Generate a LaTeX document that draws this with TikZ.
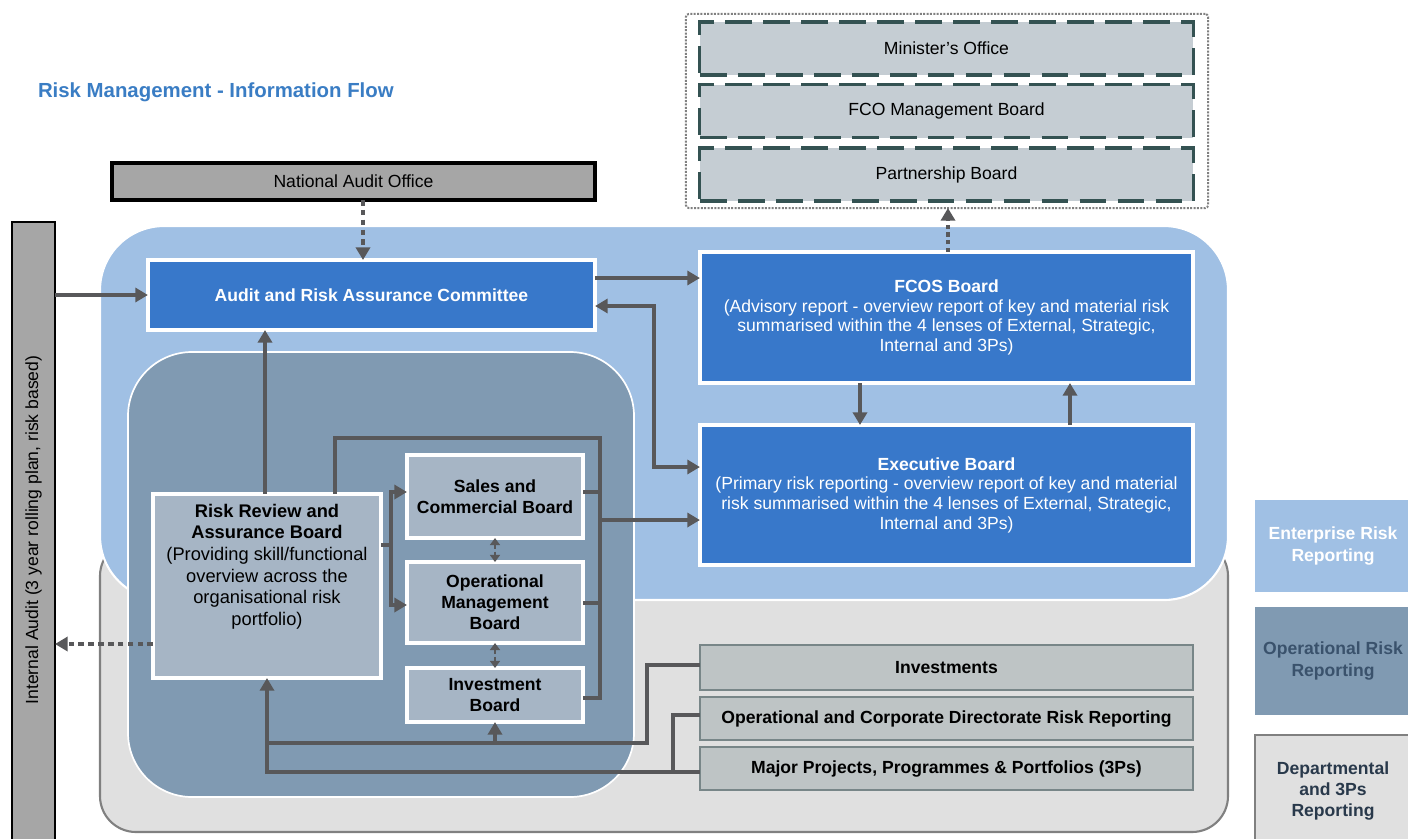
\documentclass[tikz,border=0pt]{standalone}
\usepackage{fontspec}
\setmainfont{Liberation Sans}
\usetikzlibrary{arrows.meta}

\definecolor{entblue}{RGB}{160,192,228}
\definecolor{opdark}{RGB}{128,154,178}
\definecolor{opbox}{RGB}{166,181,197}
\definecolor{deptgrey}{RGB}{224,224,224}
\definecolor{deptline}{RGB}{128,128,128}
\definecolor{deptbox}{RGB}{190,196,197}
\definecolor{deptboxline}{RGB}{120,134,136}
\definecolor{boardblue}{RGB}{56,120,202}
\definecolor{topfill}{RGB}{197,205,211}
\definecolor{topline}{RGB}{52,82,82}
\definecolor{naogrey}{RGB}{166,166,166}
\definecolor{titleblue}{RGB}{58,125,196}
\definecolor{optext}{RGB}{58,82,108}
\definecolor{linkgrey}{RGB}{88,88,90}

\begin{document}
\begin{tikzpicture}[x=0.025cm, y=-0.025cm,
  every node/.style={font=\fontsize{12.5}{14}\selectfont, align=center, inner sep=0pt, outer sep=0pt},
  bluebox/.style={fill=boardblue, draw=white, line width=3pt, text=white},
  opbox/.style={fill=opbox, draw=white, line width=3pt, font=\fontsize{12.5}{15}\selectfont\bfseries},
  deptbox/.style={fill=deptbox, draw=deptboxline, line width=1.5pt, minimum width=12.325cm, font=\fontsize{12.5}{14}\selectfont\bfseries},
  topbox/.style={fill=topfill, draw=topline, line width=2.2pt, dash pattern=on 19pt off 8pt, minimum width=12.325cm, minimum height=1.325cm},
  link/.style={draw=linkgrey, line width=2.3pt, -{Triangle[length=9pt,width=10pt]}},
  line/.style={draw=linkgrey, line width=2.3pt},
  dlink/.style={draw=linkgrey, line width=1.5pt, dash pattern=on 3pt off 2pt, {Triangle[length=5pt,width=7pt]}-{Triangle[length=5pt,width=7pt]}}
]
\useasboundingbox (0,0) rectangle (1408,838);
\fill[white] (0,0) rectangle (1408,838);

% title
\node[anchor=west, text=titleblue, font=\fontsize{14.5}{16}\selectfont\bfseries] (title) at (38,92) {Risk Management - Information Flow};

% reporting areas
\draw[fill=deptgrey, draw=deptline, line width=1.5pt, rounded corners=0.9cm] (100,540) rectangle (1228,832);
\draw[fill=entblue, draw=white, line width=1.5pt, rounded corners=1.6cm] (100,226) rectangle (1228,600);
\draw[fill=opdark, draw=white, line width=1.2pt, rounded corners=1.6cm] (128,352) rectangle (634,797);

% outside bodies
\node[draw=black, fill=naogrey, line width=2.4pt, minimum width=12.075cm, minimum height=0.925cm] (nao) at (353.5,181.5) {National Audit Office};
\node[draw=black, fill=naogrey, line width=2pt, minimum width=1.075cm, minimum height=15.6cm] (ia) at (33.5,534) {};
\node[rotate=90] (iatext) at (33.5,530) {Internal Audit (3 year rolling plan, risk based)};

\node[draw=gray, densely dotted, line width=1.4pt, rounded corners=2pt, minimum width=13.05cm, minimum height=4.85cm] (upper) at (947,111) {};
\node[topbox] (mo) at (946.5,48.5) {Minister's Office};
\node[topbox] (fcomb) at (946.5,111) {FCO Management Board};
\node[topbox] (pb) at (946.5,174.5) {Partnership Board};

% enterprise risk reporting
\node[bluebox, font=\fontsize{12.5}{14}\selectfont\bfseries, minimum width=11.175cm, minimum height=1.75cm] (arac) at (371.5,295) {Audit and Risk Assurance Committee};
\node[bluebox, minimum width=12.325cm, minimum height=3.275cm] (fcos) at (946.5,317.5) {\textbf{FCOS Board}\\(Advisory report - overview report of key and material risk\\summarised within the 4 lenses of External, Strategic,\\Internal and 3Ps)};
\node[bluebox, minimum width=12.325cm, minimum height=3.5cm] (exec) at (946.5,495) {\textbf{Executive Board}\\(Primary risk reporting - overview report of key and material\\risk summarised within the 4 lenses of External, Strategic,\\Internal and 3Ps)};

% operational risk reporting
\node[opbox, minimum width=5.7cm, minimum height=4.6cm, font=\fontsize{13}{15.4}\selectfont] (rrab) at (267,586) {\parbox[t][4.1cm][t]{5.6cm}{\centering\textbf{Risk Review and}\\\textbf{Assurance Board}\\(Providing skill/functional\\overview across the\\organisational risk\\portfolio)}};
\node[opbox, minimum width=4.4cm, minimum height=2.075cm] (sales) at (495,496.5) {Sales and\\Commercial Board};
\node[opbox, minimum width=4.4cm, minimum height=2.025cm] (opm) at (495,602.5) {Operational\\Management\\Board};
\node[opbox, minimum width=4.4cm, minimum height=1.35cm] (invb) at (495,695) {Investment\\Board};

% departmental and 3Ps reporting
\node[deptbox, minimum height=1.125cm] (invest) at (946.5,667.5) {Investments};
\node[deptbox, minimum height=1.075cm] (opcorp) at (946.5,718.5) {Operational and Corporate Directorate Risk Reporting};
\node[deptbox, minimum height=1.075cm] (major) at (946.5,768.5) {Major Projects, Programmes \& Portfolios (3Ps)};

% key
\node[fill=entblue, text=white, font=\fontsize{12.5}{15}\selectfont\bfseries, minimum width=3.9cm, minimum height=2.3cm] (keyent) at (1333,546) {Enterprise Risk\\Reporting};
\node[fill=opdark, text=optext, font=\fontsize{12.5}{15}\selectfont\bfseries, minimum width=3.9cm, minimum height=2.7cm] (keyop) at (1333,661) {Operational Risk\\Reporting};
\node[fill=deptgrey, draw=deptline, line width=1.5pt, text=optext!70!black, font=\fontsize{12.5}{15}\selectfont\bfseries, minimum width=3.9cm, minimum height=2.8cm] (keydept) at (1333,791) {Departmental\\and 3Ps\\Reporting};

% flows
\draw[link, dash pattern=on 4pt off 3pt] (nao.south -| 363,0) -- (arac.north -| 363,0);
\draw[link, dash pattern=on 3pt off 2.5pt] (fcos.north -| 948,0) -- (upper.south -| 948,0);
\draw[link] (ia.east |- arac.west) -- (arac.west);
\draw[link] (arac.east |- 0,278) -- (fcos.west |- 0,278);
\draw[line, {Triangle[length=9pt,width=10pt]}-{Triangle[length=9pt,width=10pt]}] (arac.east |- 0,306) -| (654,467) -- (exec.west |- 0,467);
\draw[link] (fcos.south -| 860,0) -- (exec.north -| 860,0);
\draw[link] (exec.north -| 1070,0) -- (fcos.south -| 1070,0);

\draw[link] (rrab.north -| 265,0) -- (arac.south -| 265,0);
\draw[line] (rrab.east |- 0,545) -- (391,545);
\draw[link] (391,545) |- (sales.west |- 0,492);
\draw[link] (391,545) |- (opm.west |- 0,605);
\draw[line] (rrab.north -| 335,0) |- (600,438) -- (600,698) -- (invb.east |- 0,698);
\draw[line] (sales.east |- 0,492) -- (600,492);
\draw[line] (opm.east |- 0,603) -- (600,603);
\draw[link] (600,520) -- (exec.west |- 0,520);
\draw[dlink] (sales.south) -- (opm.north);
\draw[dlink] (opm.south) -- (invb.north);
\draw[link, dash pattern=on 4pt off 3pt] (rrab.west |- 0,644) -- (ia.east |- 0,644);

\draw[line] (invest.west |- 0,665) -| (647,743) -- (265,743);
\draw[line] (opcorp.west |- 0,715) -| (673,772);
\draw[line] (major.west |- 0,772) -- (265,772);
\draw[link] (rrab.south |- 0,772) -- (rrab.south);
\draw[link] (invb.south |- 0,743) -- (invb.south);
\end{tikzpicture}
\end{document}
